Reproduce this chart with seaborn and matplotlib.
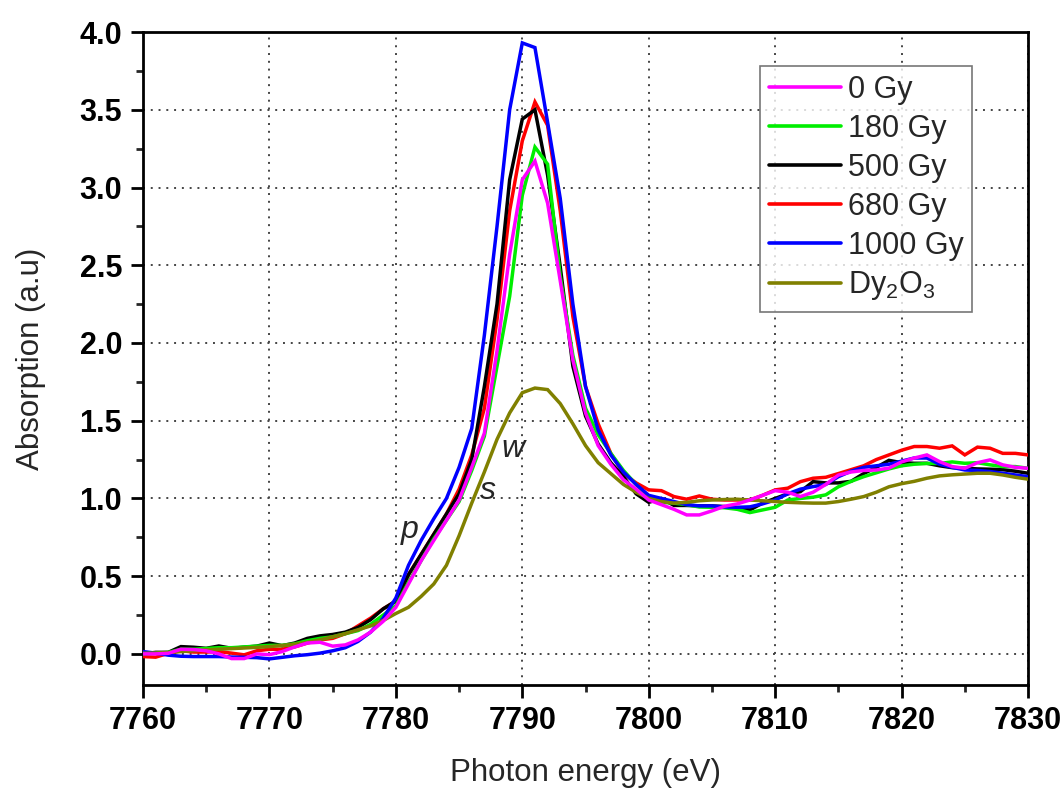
import matplotlib
matplotlib.use("Agg")
import matplotlib.pyplot as plt
import numpy as np
import pandas as pd
import seaborn as sns
from matplotlib.lines import Line2D
from matplotlib.ticker import MultipleLocator, FormatStrFormatter

# Photon energy grid (eV), 1 eV steps
energy = list(range(7760, 7831))

gy0 = [0.0, 0.0, 0.004, 0.03, 0.028, 0.02, 0.0, -0.03, -0.03, 0.0,
       -0.005, 0.015, 0.045, 0.07, 0.075, 0.05, 0.058, 0.09, 0.14, 0.21,
       0.30, 0.45, 0.60, 0.73, 0.86, 0.99, 1.20, 1.42, 1.95, 2.57,
       3.05, 3.17, 2.90, 2.40, 1.89, 1.55, 1.34, 1.22, 1.12, 1.06,
       0.99, 0.96, 0.93, 0.894, 0.894, 0.92, 0.95, 0.965, 0.99, 1.02,
       1.05, 1.04, 1.012, 1.04, 1.09, 1.15, 1.17, 1.18, 1.183, 1.195,
       1.235, 1.26, 1.28, 1.237, 1.205, 1.194, 1.23, 1.248, 1.216, 1.20,
       1.194]

gy180 = [0.0, 0.005, 0.01, 0.03, 0.03, 0.035, 0.04, 0.04, 0.045, 0.05,
         0.055, 0.055, 0.065, 0.085, 0.10, 0.11, 0.13, 0.15, 0.19, 0.25,
         0.31, 0.46, 0.60, 0.74, 0.86, 0.98, 1.18, 1.40, 1.85, 2.30,
         2.95, 3.26, 3.15, 2.43, 1.92, 1.58, 1.41, 1.29, 1.18, 1.09,
         1.01, 0.975, 0.97, 0.96, 0.945, 0.943, 0.94, 0.93, 0.909, 0.926,
         0.943, 0.99, 1.0, 1.008, 1.023, 1.075, 1.11, 1.14, 1.165, 1.19,
         1.21, 1.22, 1.225, 1.225, 1.235, 1.226, 1.23, 1.216, 1.205, 1.205,
         1.194]

gy500 = [0.0, 0.01, 0.01, 0.047, 0.043, 0.036, 0.051, 0.036, 0.043, 0.05,
         0.07, 0.053, 0.07, 0.10, 0.116, 0.125, 0.14, 0.17, 0.22, 0.29,
         0.34, 0.51, 0.64, 0.77, 0.90, 1.03, 1.25, 1.72, 2.25, 3.05,
         3.44, 3.50, 3.08, 2.49, 1.85, 1.53, 1.35, 1.23, 1.14, 1.03,
         0.975, 1.0, 0.955, 0.955, 0.952, 0.952, 0.948, 0.935, 0.926, 0.97,
         1.0, 1.03, 1.044, 1.108, 1.10, 1.10, 1.11, 1.16, 1.20, 1.245,
         1.23, 1.226, 1.226, 1.21, 1.198, 1.194, 1.19, 1.188, 1.185, 1.175,
         1.162]

gy680 = [-0.017, -0.021, 0.004, 0.02, 0.012, 0.012, 0.015, 0.005, -0.006, 0.02,
         0.03, 0.03, 0.045, 0.07, 0.09, 0.10, 0.13, 0.18, 0.23, 0.29,
         0.34, 0.51, 0.64, 0.77, 0.90, 1.06, 1.28, 1.58, 2.15, 2.85,
         3.30, 3.55, 3.40, 2.85, 2.17, 1.72, 1.48, 1.29, 1.16, 1.10,
         1.055, 1.05, 1.012, 0.995, 1.016, 0.995, 0.99, 0.99, 0.99, 1.02,
         1.055, 1.066, 1.108, 1.13, 1.136, 1.16, 1.185, 1.21, 1.25, 1.28,
         1.31, 1.334, 1.334, 1.323, 1.338, 1.28, 1.33, 1.323, 1.29, 1.29,
         1.28]

gy1000 = [0.015, 0.005, -0.008, -0.015, -0.017, -0.017, -0.017, -0.02, -0.022, -0.024,
          -0.032, -0.022, -0.012, -0.005, 0.005, 0.02, 0.04, 0.08, 0.14, 0.23,
          0.36, 0.57, 0.73, 0.87, 1.0, 1.20, 1.45, 2.05, 2.75, 3.50,
          3.93, 3.90, 3.42, 2.93, 2.25, 1.72, 1.44, 1.28, 1.17, 1.09,
          1.02, 1.0, 0.98, 0.96, 0.952, 0.952, 0.945, 0.943, 0.946, 0.965,
          0.99, 1.03, 1.06, 1.076, 1.09, 1.14, 1.175, 1.20, 1.21, 1.22,
          1.24, 1.26, 1.26, 1.22, 1.20, 1.183, 1.18, 1.173, 1.162, 1.151,
          1.14]

dy2o3 = [0.004, 0.006, 0.009, 0.015, 0.02, 0.026, 0.03, 0.034, 0.038, 0.042,
         0.047, 0.054, 0.062, 0.075, 0.09, 0.11, 0.13, 0.155, 0.18, 0.215,
         0.26, 0.30, 0.37, 0.45, 0.57, 0.76, 0.97, 1.17, 1.38, 1.55,
         1.68, 1.71, 1.70, 1.61, 1.48, 1.34, 1.23, 1.16, 1.09, 1.04,
         1.0, 0.98, 0.97, 0.975, 0.985, 0.99, 0.993, 0.995, 0.99, 0.985,
         0.98, 0.975, 0.972, 0.97, 0.97, 0.98, 0.995, 1.012, 1.04, 1.075,
         1.095, 1.11, 1.13, 1.145, 1.152, 1.157, 1.162, 1.162, 1.151, 1.136,
         1.124]

sample_names = ["0 Gy", "180 Gy", "500 Gy", "680 Gy", "1000 Gy", "Dy$_2$O$_3$"]
sample_colors = ["#FF00FF", "#00EE00", "#000000", "#FF0000", "#0000FF", "#808000"]
sample_values = [gy0, gy180, gy500, gy680, gy1000, dy2o3]

x_ticks = [7760, 7770, 7780, 7790, 7800, 7810, 7820, 7830]
y_ticks = [0.0, 0.5, 1.0, 1.5, 2.0, 2.5, 3.0, 3.5, 4.0]

# Peak feature labels: (text, energy, absorption)
feature_labels = [("p", 7781.1, 0.80), ("s", 7787.3, 1.05), ("w", 7789.3, 1.32)]

frames = [pd.DataFrame({"energy": energy, "absorption": vals, "sample": name})
          for name, vals in zip(sample_names, sample_values)]
df = pd.concat(frames, ignore_index=True)

sns.set_theme(style="white")
plt.rcParams["font.family"] = ["Liberation Sans", "DejaVu Sans"]
plt.rcParams["mathtext.fontset"] = "custom"
plt.rcParams["mathtext.rm"] = "Liberation Sans"
plt.rcParams["mathtext.it"] = "Liberation Sans:italic"
plt.rcParams["mathtext.default"] = "regular"

fig = plt.figure(figsize=(10.64, 7.91), dpi=100)
ax = fig.add_axes([0.1344, 0.134, 0.8318, 0.8255])

palette = dict(zip(sample_names, sample_colors))
sns.lineplot(data=df, x="energy", y="absorption", hue="sample",
             hue_order=sample_names, palette=palette, linewidth=2.5,
             estimator=None, sort=False, legend=False, ax=ax)

# drawing order: 0 Gy on top, then the oxide reference
z_order = {"0 Gy": 8, "180 Gy": 5, "500 Gy": 4, "680 Gy": 3, "1000 Gy": 6, "Dy$_2$O$_3$": 7}
for line, name in zip(ax.lines, sample_names):
    line.set_zorder(z_order[name])
    line.set_solid_joinstyle("miter")

ax.set_xlim(7760, 7830)
ax.set_ylim(-0.2, 4.0)
ax.set_xticks(x_ticks)
ax.set_yticks(y_ticks)
ax.xaxis.set_minor_locator(MultipleLocator(5))
ax.yaxis.set_minor_locator(MultipleLocator(0.25))
ax.yaxis.set_major_formatter(FormatStrFormatter("%.1f"))

ax.grid(True, which="major", linestyle=(0, (1, 3)), color="#444444", linewidth=1.4)
ax.set_axisbelow(True)

for side in ["left", "right", "top", "bottom"]:
    ax.spines[side].set_linewidth(2.0)
    ax.spines[side].set_color("black")

ax.tick_params(axis="both", which="major", direction="out", length=9, width=2,
               labelsize=22, pad=6, color="black", labelcolor="black",
               bottom=True, left=True, top=False, right=False)
ax.tick_params(axis="both", which="minor", direction="out", length=5, width=2,
               bottom=True, left=True, top=False, right=False)
for lab in ax.get_xticklabels() + ax.get_yticklabels():
    lab.set_fontweight("bold")

ax.set_xlabel("Photon energy (eV)", fontsize=22.5, labelpad=16)
ax.set_ylabel("Absorption (a.u)", fontsize=22.5, labelpad=24)

for txt, ex, ey in feature_labels:
    ax.text(ex, ey, txt, fontsize=23, style="italic", ha="center", va="center", zorder=9)

handles = [Line2D([0], [0], color=c, linewidth=2.6) for c in sample_colors]
leg = ax.legend(handles, sample_names, loc="upper left", bbox_to_anchor=(0.697, 0.948),
                frameon=True, fancybox=False, edgecolor="#555555", fontsize=22,
                handlelength=2.35, handletextpad=0.22, labelspacing=0.29,
                borderpad=0.3, borderaxespad=0)
leg.get_frame().set_linewidth(1.2)
leg.set_zorder(10)

fig.savefig("out.png", dpi=100)
